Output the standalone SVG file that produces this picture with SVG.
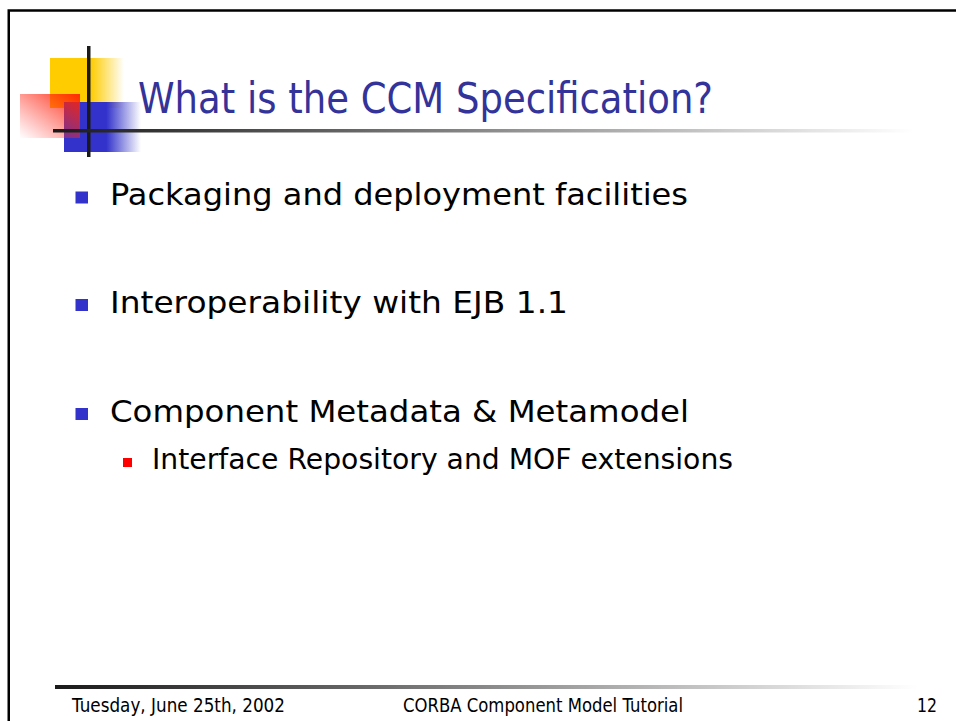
<svg xmlns="http://www.w3.org/2000/svg" width="956" height="721" viewBox="0 0 956 721">
  <defs>
    <linearGradient id="fadeYellow" x1="0" y1="0" x2="1" y2="0">
      <stop offset="0" stop-color="#FFCC00"/>
      <stop offset="0.55" stop-color="#FFCC00"/>
      <stop offset="1" stop-color="#FFCC00" stop-opacity="0"/>
    </linearGradient>
    <linearGradient id="fadeBlue" x1="0" y1="0" x2="1" y2="0">
      <stop offset="0" stop-color="#3333CC"/>
      <stop offset="0.55" stop-color="#3333CC"/>
      <stop offset="1" stop-color="#3333CC" stop-opacity="0"/>
    </linearGradient>
    <linearGradient id="fadeRed" x1="1" y1="0" x2="0" y2="1">
      <stop offset="0" stop-color="#FF2200" stop-opacity="0.95"/>
      <stop offset="1" stop-color="#FF3333" stop-opacity="0"/>
    </linearGradient>
    <linearGradient id="ruleFade" x1="0" y1="0" x2="1" y2="0">
      <stop offset="0" stop-color="#1a1a1a"/>
      <stop offset="0.35" stop-color="#666666"/>
      <stop offset="1" stop-color="#ffffff"/>
    </linearGradient>
    <style>
      .title { font-family: "DejaVu Sans", Verdana, sans-serif; font-size: 42px; fill: #333399; }
      .body { font-family: "DejaVu Sans", Verdana, sans-serif; font-size: 31px; fill: #000000; }
      .sub { font-family: "DejaVu Sans", Verdana, sans-serif; font-size: 28.5px; fill: #000000; }
      .foot { font-family: "DejaVu Sans", Verdana, sans-serif; font-size: 19px; fill: #000000; }
      .dot1 { fill: #3333CC; }
      .dot2 { fill: #FF0000; }
    </style>
  </defs>

  <rect x="0" y="0" width="956" height="721" fill="#ffffff"/>

  <!-- slide frame -->
  <path d="M 8.75 721 L 8.75 10.5 L 956 10.5" fill="none" stroke="#000000" stroke-width="2.5"/>

  <!-- title ornament -->
  <g id="ornament">
    <rect x="50" y="58" width="74" height="50" fill="url(#fadeYellow)"/>
    <rect x="64" y="102" width="77" height="50" fill="url(#fadeBlue)"/>
    <rect x="20" y="94" width="60" height="44" fill="url(#fadeRed)"/>
    <rect x="87" y="46" width="3.5" height="111" fill="#1a1a1a"/>
  </g>

  <!-- title rule -->
  <rect x="53" y="129" width="860" height="3.5" fill="url(#ruleFade)"/>

  <g id="title">
    <text class="title" x="138" y="113" textLength="575" lengthAdjust="spacingAndGlyphs">What is the CCM Specification?</text>
  </g>

  <g id="bullet1">
    <rect class="dot1" x="75.5" y="191.5" width="12.5" height="12"/>
    <text class="body" x="110" y="205" textLength="578" lengthAdjust="spacingAndGlyphs">Packaging and deployment facilities</text>
  </g>

  <g id="bullet2">
    <rect class="dot1" x="75.5" y="299" width="12.5" height="12"/>
    <text class="body" x="110" y="313" textLength="458" lengthAdjust="spacingAndGlyphs">Interoperability with EJB 1.1</text>
  </g>

  <g id="bullet3">
    <rect class="dot1" x="75.5" y="408" width="12.5" height="12"/>
    <text class="body" x="110" y="422" textLength="579" lengthAdjust="spacingAndGlyphs">Component Metadata &amp; Metamodel</text>
  </g>

  <g id="bullet3a">
    <rect class="dot2" x="123" y="458" width="9" height="9"/>
    <text class="sub" x="152" y="469" textLength="581" lengthAdjust="spacingAndGlyphs">Interface Repository and MOF extensions</text>
  </g>

  <!-- footer rule -->
  <rect x="55" y="685" width="862" height="4" fill="url(#ruleFade)"/>

  <g id="footer">
    <text class="foot" x="72" y="712" textLength="213" lengthAdjust="spacingAndGlyphs">Tuesday, June 25th, 2002</text>
    <text class="foot" x="403" y="712" textLength="280" lengthAdjust="spacingAndGlyphs">CORBA Component Model Tutorial</text>
    <text class="foot" x="917" y="712" textLength="20" lengthAdjust="spacingAndGlyphs">12</text>
  </g>
</svg>
